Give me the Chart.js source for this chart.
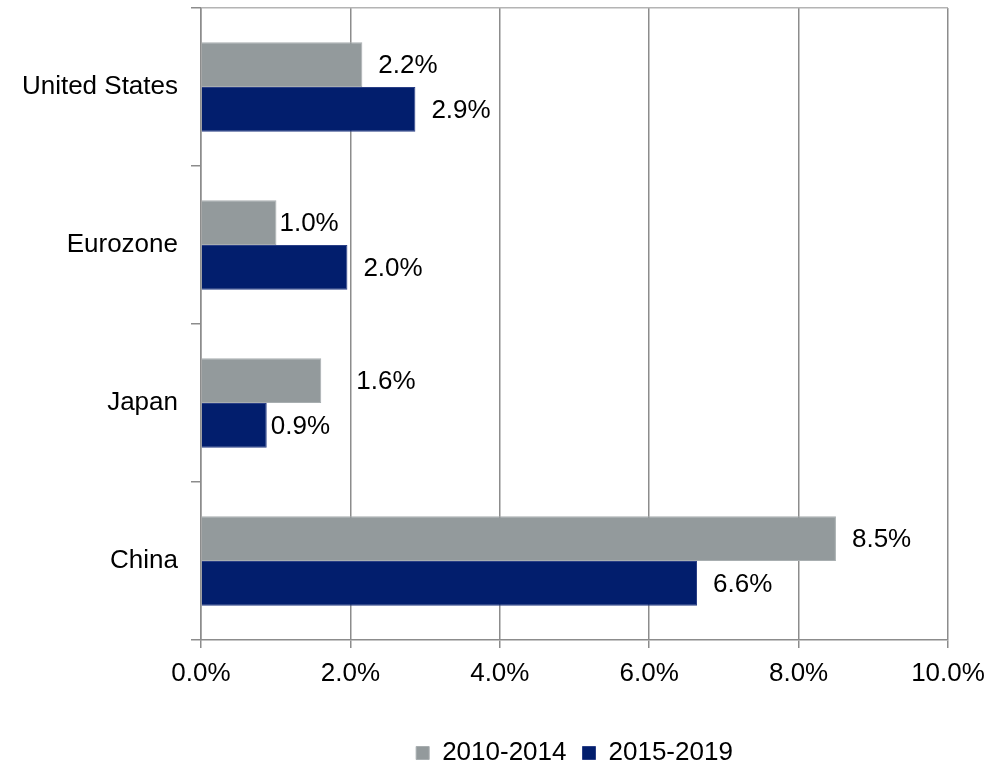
<html>
  <head>
    <script src="https://cdn.jsdelivr.net/npm/chart.js@4/dist/chart.umd.min.js"></script>
    <style>
      body { margin: 0; background: #fff; }
      #wrap { width: 1000px; height: 766px; }
    </style>
  </head>
  <body>
    <div id="wrap"><canvas id="myChart"></canvas></div>

    <script>
      // data
      const regions = ['United States', 'Eurozone', 'Japan', 'China'];
      const growth2010 = [2.16, 1.01, 1.61, 8.50];
      const growth2015 = [2.87, 1.96, 0.88, 6.64];
      const seriesNames = ['2010-2014', '2015-2019'];
      const xTicks = [0, 2, 4, 6, 8, 10];

      const FONT = "'Liberation Sans', Arial, sans-serif";
      const gridGray = '#8c8c8c';

      // gap between bar end and its label (px), per series / per region
      const labelGap = [[16, 3, 35, 16], [16, 16, 4, 16]];

      // value labels at the end of each bar
      const barLabels = {
        id: 'barLabels',
        afterDatasetsDraw(chart) {
          const ctx = chart.ctx;
          ctx.save();
          ctx.font = '26px ' + FONT;
          ctx.fillStyle = '#000';
          ctx.textAlign = 'left';
          ctx.textBaseline = 'middle';
          chart.data.datasets.forEach((ds, di) => {
            chart.getDatasetMeta(di).data.forEach((bar, i) => {
              let txt = ds.data[i].toFixed(1) + '%';
              ctx.fillText(txt, bar.x + labelGap[di][i], bar.y + 1);
            });
          });
          ctx.restore();
        }
      };

      let ctx = document.getElementById('myChart').getContext('2d');
      let myChart = new Chart(ctx, {
        type: 'bar',
        data: {
          labels: regions,
          datasets: [
            {
              label: seriesNames[0],
              data: growth2010,
              backgroundColor: '#939a9c',
              borderColor: '#a8aeb0',
              borderWidth: 1
            },
            {
              label: seriesNames[1],
              data: growth2015,
              backgroundColor: '#021e6d',
              borderColor: '#2a3f86',
              borderWidth: 1
            }
          ]
        },
        options: {
          indexAxis: 'y',
          responsive: true,
          maintainAspectRatio: false,
          animation: false,
          categoryPercentage: 0.566,
          barPercentage: 1.0,
          layout: { padding: { top: 8, right: 52, bottom: -10, left: 0 } },
          scales: {
            x: {
              min: 0,
              max: 10,
              afterBuildTicks(scale) {
                scale.ticks = xTicks.map(v => ({ value: v }));
              },
              grid: { color: gridGray, lineWidth: 1.5, tickLength: 8 },
              border: { color: gridGray, width: 1.5 },
              ticks: {
                color: '#000',
                font: { family: FONT, size: 26 },
                padding: 10,
                maxRotation: 0,
                callback: v => v.toFixed(1) + '%'
              },
              afterFit(scale) { scale.height = 84; }
            },
            y: {
              grid: {
                offset: true,
                drawOnChartArea: true,
                color: c => (c.index === 0 ? '#b4b4b4' : 'rgba(0,0,0,0)'),
                tickColor: gridGray,
                lineWidth: 1.5,
                tickLength: 10
              },
              border: { color: gridGray, width: 1.5 },
              ticks: {
                color: '#000',
                font: { family: FONT, size: 26 },
                padding: 13
              },
              afterFit(scale) {
                scale.width = 201;
                scale.paddingTop = 0;
                scale.paddingBottom = 0;
              }
            }
          },
          plugins: {
            legend: {
              position: 'bottom',
              fullSize: false,
              labels: {
                color: '#000',
                font: { family: FONT, size: 26 },
                boxWidth: 13,
                boxHeight: 13,
                padding: 16
              }
            },
            tooltip: { enabled: false }
          }
        },
        plugins: [barLabels]
      });
    </script>
  </body>
</html>
